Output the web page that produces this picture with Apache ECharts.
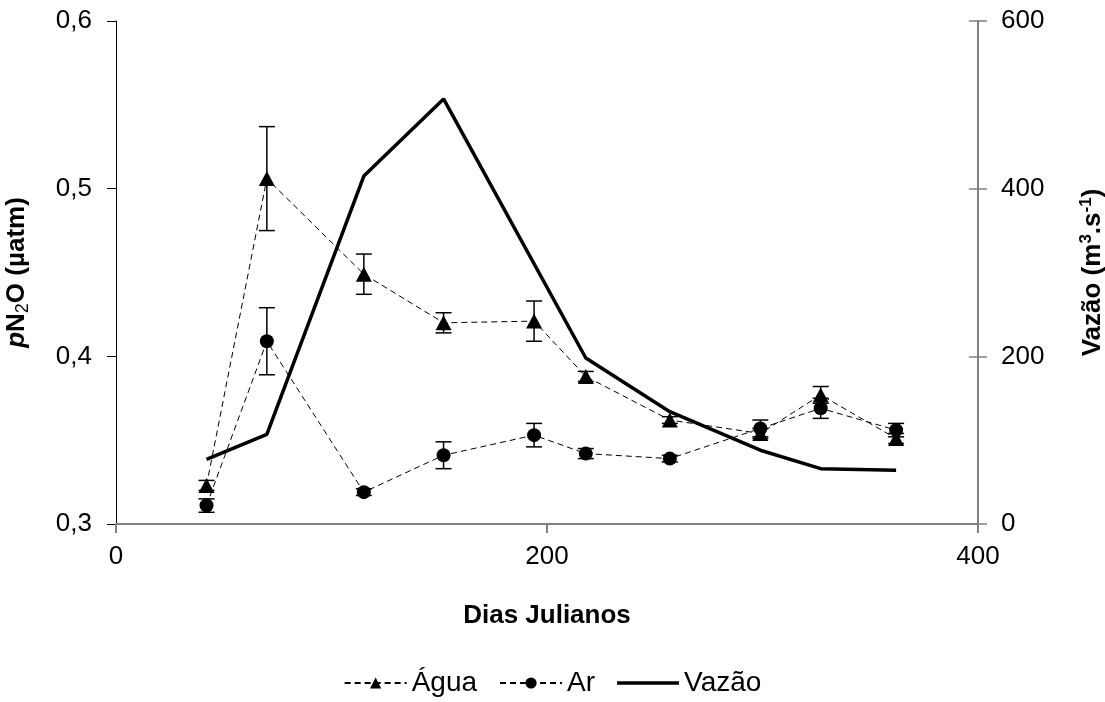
<!DOCTYPE html>
<html>
<head>
<meta charset="utf-8">
<script src="https://cdn.jsdelivr.net/npm/echarts@6/dist/echarts.min.js"></script>
<style>
  html, body { margin: 0; padding: 0; background: #fff; }
  #chart { width: 1105px; height: 702px; }
</style>
</head>
<body>
<div id="chart"></div>
<script>
// Sampling days (Julian day of year)
const days = [42, 70, 115, 152, 194, 218, 257, 299, 327, 362];
// pN2O in water (µatm) and its error
const agua = [0.323, 0.506, 0.449, 0.420, 0.421, 0.388, 0.362, 0.354, 0.377, 0.351];
const aguaErr = [0.003, 0.031, 0.012, 0.006, 0.012, 0.003, 0.002, 0.003, 0.005, 0.003];
// pN2O in air (µatm) and its error
const ar = [0.311, 0.409, 0.319, 0.341, 0.353, 0.342, 0.339, 0.357, 0.369, 0.356];
const arErr = [0.004, 0.020, 0.002, 0.008, 0.007, 0.003, 0.002, 0.005, 0.006, 0.004];
// River discharge (m3/s); no reading on day 194
const vazao = [77, 107, 415, 507, null, 198, 134, 88, 66, 64];

const FONT = 'Liberation Sans, Arial, sans-serif';

const pairs = (ys) => days.map((d, i) => [d, ys[i]]);
const errTriples = (ys, es) => days.map((d, i) => [d, ys[i], es[i]]);

function errorBar(params, api) {
  const x = api.value(0), y = api.value(1), e = api.value(2);
  const top = api.coord([x, y + e]);
  const bot = api.coord([x, y - e]);
  const half = 8;
  const style = { stroke: '#000', lineWidth: 1.5 };
  return {
    type: 'group',
    children: [
      { type: 'line', shape: { x1: top[0], y1: top[1], x2: bot[0], y2: bot[1] }, style },
      { type: 'line', shape: { x1: top[0] - half, y1: top[1], x2: top[0] + half, y2: top[1] }, style },
      { type: 'line', shape: { x1: bot[0] - half, y1: bot[1], x2: bot[0] + half, y2: bot[1] }, style }
    ]
  };
}

const fmtComma = (v) => v.toFixed(1).replace('.', ',');

const chart = echarts.init(document.getElementById('chart'), null, { renderer: 'canvas' });

chart.setOption({
  backgroundColor: '#fff',
  animation: false,
  textStyle: { fontFamily: FONT, color: '#000' },
  grid: { left: 116, right: 127, top: 21, bottom: 178, containLabel: false, outerBoundsMode: 'none' },
  legend: {
    left: 'center',
    top: 664,
    itemWidth: 62,
    itemHeight: 14,
    itemGap: 22,
    textStyle: { fontSize: 28, fontFamily: FONT, color: '#000' },
    data: [
      'Água',
      'Ar',
      { name: 'Vazão', icon: 'path://M0,0 L62,0 L62,3.5 L0,3.5 Z', itemStyle: { color: '#000' } }
    ]
  },
  xAxis: {
    type: 'value',
    min: 0, max: 400, interval: 200,
    name: 'Dias Julianos',
    nameLocation: 'middle',
    nameGap: 79,
    nameTextStyle: { fontSize: 26, fontWeight: 'bold', fontFamily: FONT, color: '#000' },
    axisLine: { lineStyle: { color: '#808080', width: 2 } },
    axisTick: { inside: false, length: 9, lineStyle: { color: '#808080', width: 2 } },
    axisLabel: { fontSize: 26, margin: 20, color: '#000', fontFamily: FONT },
    splitLine: { show: false }
  },
  yAxis: [
    {
      type: 'value',
      position: 'left',
      min: 0.3, max: 0.6, interval: 0.1,
      name: '{i|p}{b|N}{sub|2}{b|O (µatm)}',
      nameLocation: 'middle',
      nameRotate: 90,
      nameGap: 84,
      nameTextStyle: {
        fontFamily: FONT,
        rich: {
          i: { fontSize: 26, fontWeight: 'bold', fontStyle: 'italic', lineHeight: 30, fontFamily: FONT, color: '#000' },
          b: { fontSize: 26, fontWeight: 'bold', lineHeight: 30, fontFamily: FONT, color: '#000' },
          sub: { fontSize: 18, fontWeight: 'normal', lineHeight: 18, verticalAlign: 'bottom', fontFamily: FONT, color: '#000' }
        }
      },
      axisLine: { show: true, lineStyle: { color: '#000', width: 1 } },
      axisTick: { show: true, inside: false, length: 9, lineStyle: { color: '#000', width: 1 } },
      axisLabel: { fontSize: 26, margin: 24, color: '#000', fontFamily: FONT, formatter: fmtComma },
      splitLine: { show: false }
    },
    {
      type: 'value',
      position: 'right',
      min: 0, max: 600, interval: 200,
      name: '{b|Vazão (m}{sup|3}{b|.s}{sup|-1}{b|)}',
      nameLocation: 'middle',
      nameRotate: 90,
      nameGap: 100,
      nameTextStyle: {
        fontFamily: FONT,
        rich: {
          b: { fontSize: 26, fontWeight: 'bold', lineHeight: 30, fontFamily: FONT, color: '#000' },
          sup: { fontSize: 17, fontWeight: 'bold', lineHeight: 18, verticalAlign: 'top', fontFamily: FONT, color: '#000' }
        }
      },
      axisLine: { show: true, lineStyle: { color: '#808080', width: 2 } },
      axisTick: { show: true, inside: false, length: 9, lineStyle: { color: '#808080', width: 1.5 } },
      axisLabel: { fontSize: 26, margin: 23, color: '#000', fontFamily: FONT },
      splitLine: { show: false }
    },
    {
      // inner half of the right-hand cross ticks
      type: 'value',
      position: 'right',
      min: 0, max: 600, interval: 200,
      axisLine: { show: false },
      axisTick: { show: true, inside: true, length: 9, lineStyle: { color: '#808080', width: 1.5 } },
      axisLabel: { show: false },
      splitLine: { show: false }
    }
  ],
  series: [
    {
      name: 'Vazão',
      type: 'line',
      yAxisIndex: 1,
      data: pairs(vazao),
      connectNulls: true,
      symbol: 'none',
      lineStyle: { color: '#000', width: 3.5 },
      itemStyle: { color: '#000' },
      z: 3
    },
    {
      name: 'Água',
      type: 'line',
      yAxisIndex: 0,
      data: pairs(agua),
      symbol: 'triangle',
      symbolSize: [16, 15],
      lineStyle: { color: '#000', width: 1, type: [6, 4] },
      itemStyle: { color: '#000' },
      z: 4
    },
    {
      name: 'Ar',
      type: 'line',
      yAxisIndex: 0,
      data: pairs(ar),
      symbol: 'circle',
      symbolSize: 14,
      lineStyle: { color: '#000', width: 1, type: [6, 4] },
      itemStyle: { color: '#000' },
      z: 4
    },
    {
      type: 'custom',
      yAxisIndex: 0,
      renderItem: errorBar,
      data: errTriples(agua, aguaErr),
      z: 5
    },
    {
      type: 'custom',
      yAxisIndex: 0,
      renderItem: errorBar,
      data: errTriples(ar, arErr),
      z: 5
    }
  ]
});
</script>
</body>
</html>
